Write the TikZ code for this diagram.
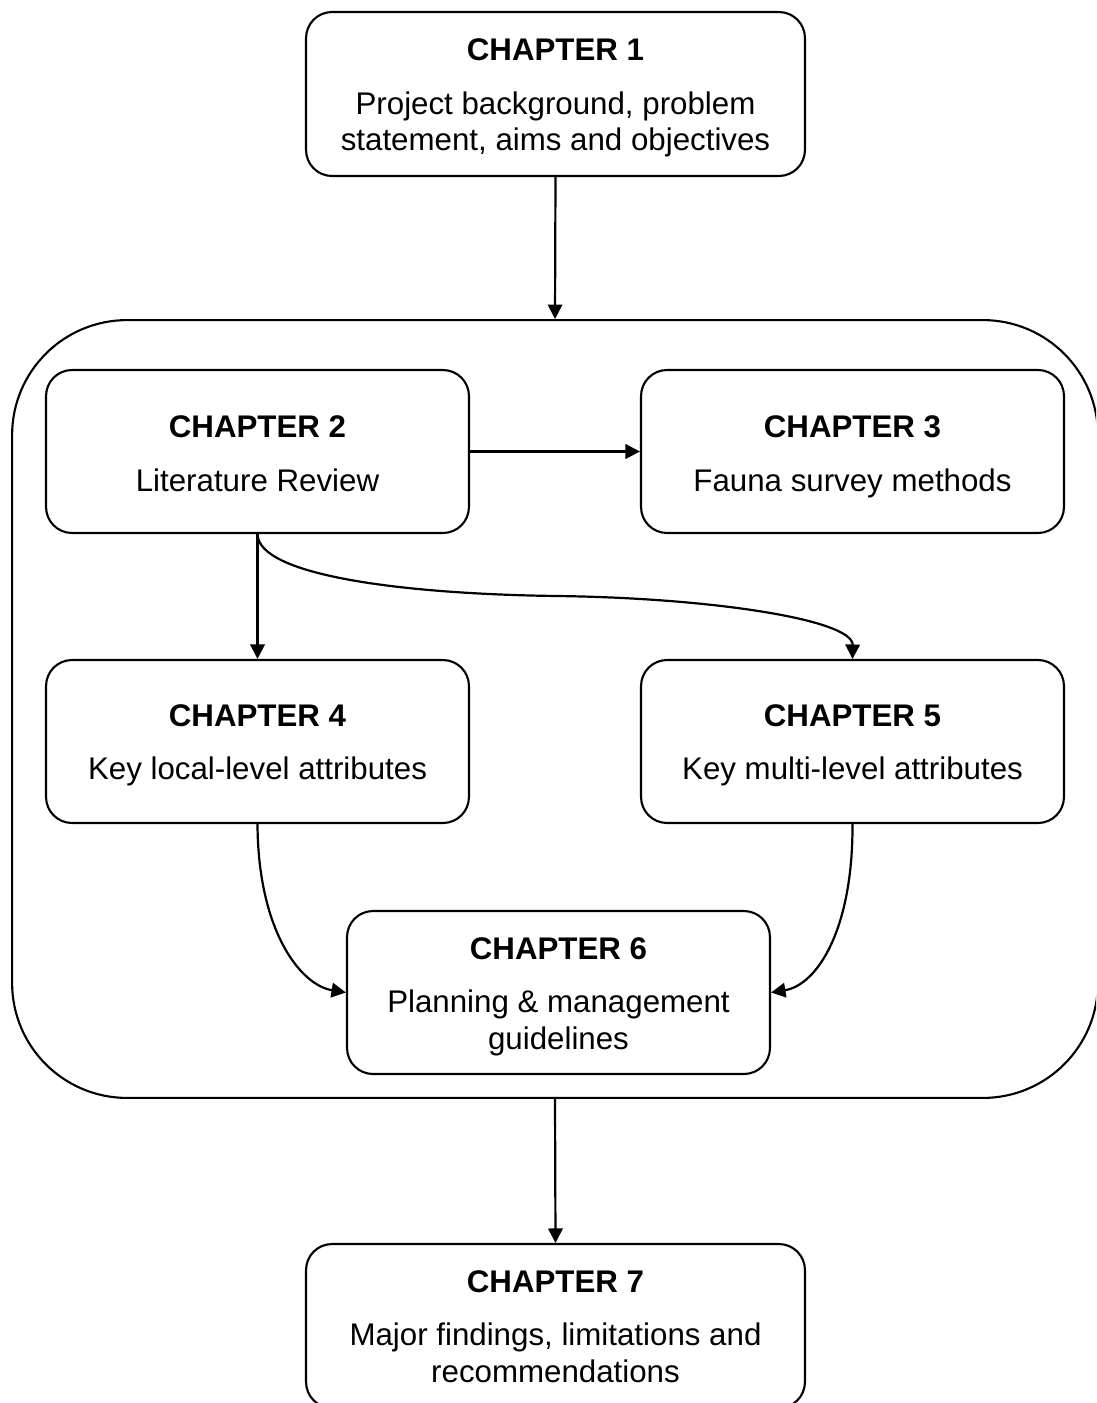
\documentclass[tikz,border=0pt]{standalone}
\usepackage{fontspec}
\setmainfont{Liberation Sans}
\usetikzlibrary{arrows.meta}

\begin{document}
\begin{tikzpicture}[x=0.02cm,y=-0.02cm,
  chapbox/.style={draw,line width=1.2pt,rounded corners=0.52cm,minimum width=8.46cm,minimum height=3.26cm,inner sep=0pt},
  widebox/.style={chapbox,minimum width=9.98cm,minimum height=3.28cm},
  group/.style={draw,line width=1.2pt,rounded corners=2.3cm,minimum width=21.72cm,minimum height=15.56cm,inner sep=0pt},
  ttl/.style={anchor=base,inner sep=0pt,font=\fontsize{17.8pt}{21pt}\selectfont\bfseries},
  txt/.style={anchor=base,inner sep=0pt,font=\fontsize{17.8pt}{21pt}\selectfont},
  flow/.style={line width=1.25pt,-{Triangle[length=0.29cm,width=0.29cm]}}
]
\useasboundingbox (0,0) rectangle (1096,1403);
\clip (0,0) rectangle (1096,1403);

% outer group holding chapters 2 to 6
\node[group] (grp) at (555,709) {};

% chapter boxes
\node[widebox] (c1) at (555.5,94) {};
\node[chapbox] (c2) at (257.5,451.5) {};
\node[chapbox] (c3) at (852.5,451.5) {};
\node[chapbox] (c4) at (257.5,741.5) {};
\node[chapbox] (c5) at (852.5,741.5) {};
\node[chapbox] (c6) at (558.5,992.5) {};
\node[widebox] (c7) at (555.5,1326) {};

% titles and descriptions
\node[ttl] (c1t) at (555.5,60) {CHAPTER 1};
\node[txt] (c1a) at (555.5,114) {Project background, problem};
\node[txt] (c1b) at (555.5,150) {statement, aims and objectives};

\node[ttl] (c2t) at (257.5,437) {CHAPTER 2};
\node[txt] (c2a) at (257.5,491) {Literature Review};

\node[ttl] (c3t) at (852.5,437) {CHAPTER 3};
\node[txt] (c3a) at (852.5,491) {Fauna survey methods};

\node[ttl] (c4t) at (257.5,726) {CHAPTER 4};
\node[txt] (c4a) at (257.5,779) {Key local-level attributes};

\node[ttl] (c5t) at (852.5,726) {CHAPTER 5};
\node[txt] (c5a) at (852.5,779) {Key multi-level attributes};

\node[ttl] (c6t) at (558.5,959) {CHAPTER 6};
\node[txt] (c6a) at (558.5,1012) {Planning \& management};
\node[txt] (c6b) at (558.5,1049) {guidelines};

\node[ttl] (c7t) at (555.5,1292) {CHAPTER 7};
\node[txt] (c7a) at (555.5,1345) {Major findings, limitations and};
\node[txt] (c7b) at (555.5,1382) {recommendations};

% connectors
\draw[flow] (c1.south) -- (grp.north);
\draw[flow] (c2.east) -- (c3.west);
\draw[flow] (c2.south) -- (c4.north);
\draw[flow] (c2.south) .. controls (258,575) and (400,594) .. (557,596)
                      .. controls (714,598) and (853,620) .. (c5.north);
\draw[flow] (c4.south) .. controls (258,930) and (300,985) .. (c6.west);
\draw[flow] (c5.south) .. controls (853,930) and (817,985) .. (c6.east);
\draw[flow] (grp.south) -- (c7.north);
\end{tikzpicture}
\end{document}
